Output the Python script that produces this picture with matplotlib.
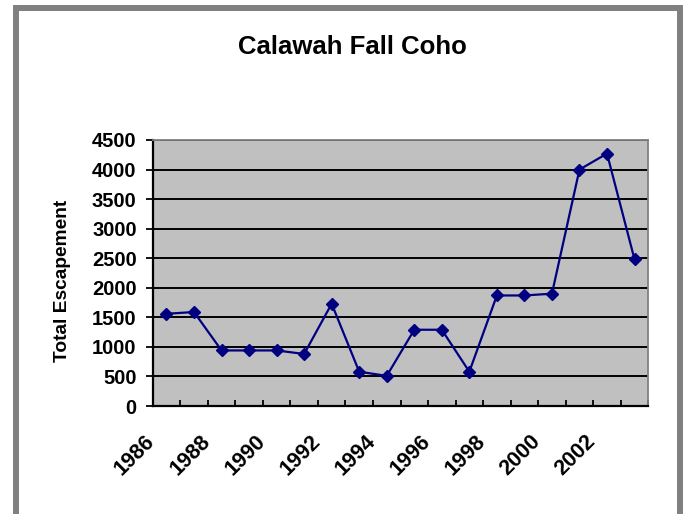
import numpy as np
import matplotlib
matplotlib.use('Agg')
import matplotlib.pyplot as plt
import matplotlib.transforms as mtransforms
from matplotlib.patches import Rectangle

matplotlib.rcParams.update({'font.family': ['Liberation Sans', 'DejaVu Sans'],
                            'font.weight': 'bold'})

years = list(range(1986, 2004))
escapement = [1560, 1590, 940, 940, 940, 880, 1730, 580, 510, 1290,
              1290, 580, 1870, 1870, 1900, 4000, 4270, 2480]
ytick_vals = list(range(0, 5000, 500))

fig = plt.figure(figsize=(6.86, 5.14), dpi=100)
ax = fig.add_axes([152.7/686, 1-406/514, (648.3-152.7)/686, (406-140)/514])
ax.set_facecolor('#C0C0C0')

x = np.arange(len(years))
ax.plot(x, escapement, color='#000080', linewidth=1.6, marker='D',
        markersize=6.6, markerfacecolor='#000080', markeredgecolor='#000080',
        zorder=3)

ax.set_xlim(-0.5, len(years) - 0.5)
ax.set_ylim(0, 4500)
ax.set_yticks(ytick_vals)
ax.yaxis.grid(True, color='black', linewidth=1.4)
ax.set_axisbelow(True)

# category labels every other year, boundary tick marks between categories
ax.set_xticks(x[::2])
ax.set_xticklabels([str(y) for y in years[::2]], rotation=45, ha='right',
                   va='top', rotation_mode='anchor', fontsize=15.5,
                   fontweight='bold')
ax.set_xticks(np.arange(-0.5, len(years)), minor=True)
ax.tick_params(axis='x', which='major', length=0, pad=18)
ax.tick_params(axis='x', which='minor', direction='in', length=4.5,
               width=1.3, color='black')
offset = mtransforms.ScaledTranslation(-0.22, 0, fig.dpi_scale_trans)
for lab in ax.get_xticklabels():
    lab.set_transform(lab.get_transform() + offset)

ax.tick_params(axis='y', direction='out', length=5, width=1.3, pad=6.5,
               labelsize=14.5)
for lab in ax.get_yticklabels():
    lab.set_fontweight('bold')

ax.spines['left'].set_linewidth(1.6)
ax.spines['bottom'].set_linewidth(1.6)
ax.spines['top'].set_color('#808080')
ax.spines['right'].set_color('#808080')
ax.spines['top'].set_linewidth(1.3)
ax.spines['right'].set_linewidth(1.3)

fig.text(62.5/686, 1-281/514, 'Total Escapement', rotation=90,
         ha='center', va='center', fontsize=13.8, fontweight='bold')
fig.text(352/686, 1-47/514, 'Calawah Fall Coho', ha='center', va='center',
         fontsize=18.5, fontweight='bold')

# grey outer frame of the chart object
fig.patches.append(Rectangle((16/686, -0.1), (680-16)/686, 1.1-8/514,
                             transform=fig.transFigure, fill=False,
                             edgecolor='#808080', linewidth=4.3,
                             clip_on=False))

fig.savefig('out.png', dpi=100)
